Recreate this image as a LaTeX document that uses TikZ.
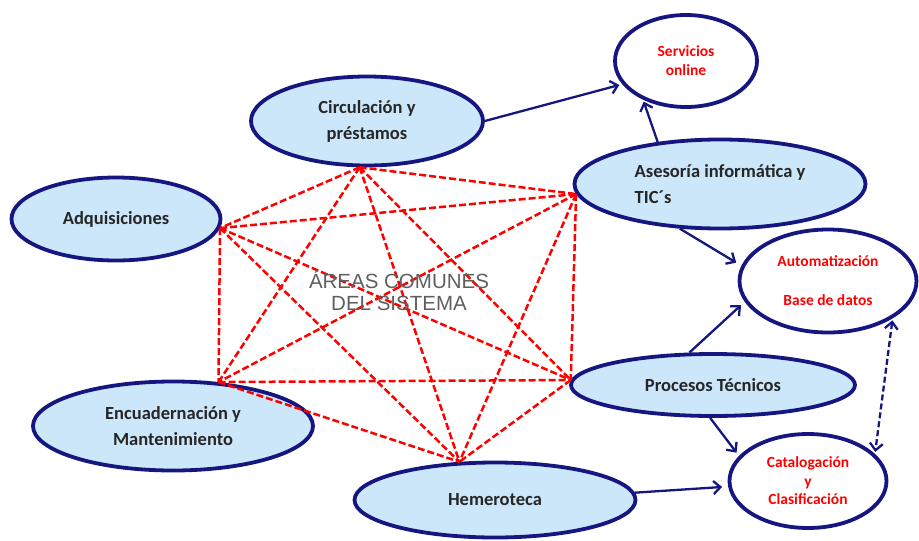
\documentclass[tikz,border=0pt]{standalone}
\usepackage{fontspec}
\setmainfont{Carlito}
\newfontfamily\arialfont{Liberation Sans}
\usepackage{tikz}
\usetikzlibrary{shapes.geometric}
\usetikzlibrary{arrows.meta}
\definecolor{navy}{RGB}{22,22,128}
\definecolor{paleblue}{RGB}{204,230,250}
\definecolor{labelgray}{RGB}{38,38,38}
\definecolor{areagray}{RGB}{95,95,95}

\begin{document}
\begin{tikzpicture}[x=1pt,y=-1pt,
    area/.style={ellipse, draw=navy, line width=3.8pt, fill=paleblue, inner sep=0pt,
      text=labelgray, font=\fontsize{18.5}{26}\selectfont\bfseries, align=center},
    service/.style={ellipse, draw=navy, line width=3.8pt, fill=white, inner sep=0pt,
      text=red, font=\fontsize{15.5}{19}\selectfont\bfseries, align=center},
    link/.style={draw=navy, line width=2.3pt, -{Straight Barb[length=7pt,width=13pt]}},
    common/.style={draw=red, line width=2.5pt, dash pattern=on 7pt off 3pt}]
      \useasboundingbox (0,0) rectangle (919,541);
      % Areas
      \node (circ) at (367,121) [area, minimum width=232pt, minimum height=89pt] {Circulación y\\préstamos};
      \node (adq) at (116,219) [area, minimum width=209pt, minimum height=83pt] {Adquisiciones};
      \node (aseso) at (720,184) [area, minimum width=291pt, minimum height=89pt, align=left] {Asesoría informática y\\TIC´s};
      \node (proc) at (713,385) [area, minimum width=284pt, minimum height=62pt] {Procesos Técnicos};
      \node (encu) at (173,426) [area, minimum width=280pt, minimum height=89pt] {Encuadernación y\\Mantenimiento};
      \node (hem) at (495,500) [area, minimum width=281pt, minimum height=75pt] {Hemeroteca};
      % Services
      \node (serv) at (686,61) [service, minimum width=142pt, minimum height=92pt] {Servicios\\online};
      \node (auto) at (828,281) [service, minimum width=177pt, minimum height=103pt] {Automatización\\[20pt]Base de datos};
      \node (cat) at (808,481) [service, minimum width=157pt, minimum height=94pt, font=\fontsize{15.5}{18.5}\selectfont\bfseries] {Catalogación\\y\\Clasificación};
      %
      % Common area links:
      \draw[common] (circ.261) -- (adq.-5);
      \draw[common] (circ.261) -- (aseso.184);
      \draw[common] (circ.261) -- (encu.44);
      \draw[common] (circ.261) -- (proc.178);
      \draw[common] (circ.261) -- (hem.133);
      \draw[common] (adq.-5) -- (aseso.184);
      \draw[common] (adq.-5) -- (encu.44);
      \draw[common] (adq.-5) -- (proc.178);
      \draw[common] (adq.-5) -- (hem.133);
      \draw[common] (aseso.184) -- (encu.44);
      \draw[common] (aseso.184) -- (proc.178);
      \draw[common] (aseso.184) -- (hem.133);
      \draw[common] (encu.44) -- (proc.178);
      \draw[common] (encu.44) -- (hem.133);
      \draw[common] (proc.178) -- (hem.133);
      \node (commons) at (399,291) [font=\arialfont\fontsize{20.5}{22}\selectfont, text=areagray, align=center] {ÁREAS COMUNES\\DEL SISTEMA};
      %
      % Service arrows:
      \draw[link, shorten >=3pt] (circ.east) -- (serv.200);
      \draw[link, shorten >=2pt] (aseso.146) -- (serv.222);
      \draw[link, shorten >=6pt] (aseso.228) -- (auto.170);
      \draw[link, shorten >=5pt] (proc.126) -- (auto.194);
      \draw[link, shorten >=4pt] (proc.265) -- (cat.160);
      \draw[link, shorten >=6pt] (hem.3) -- (cat.184);
      \draw[link, dash pattern=on 6pt off 3pt, {Straight Barb[length=7pt,width=13pt]}-{Straight Barb[length=7pt,width=13pt]}, shorten <=2pt, shorten >=2pt] (auto.-30) -- (cat.22);
\end{tikzpicture}
\end{document}
